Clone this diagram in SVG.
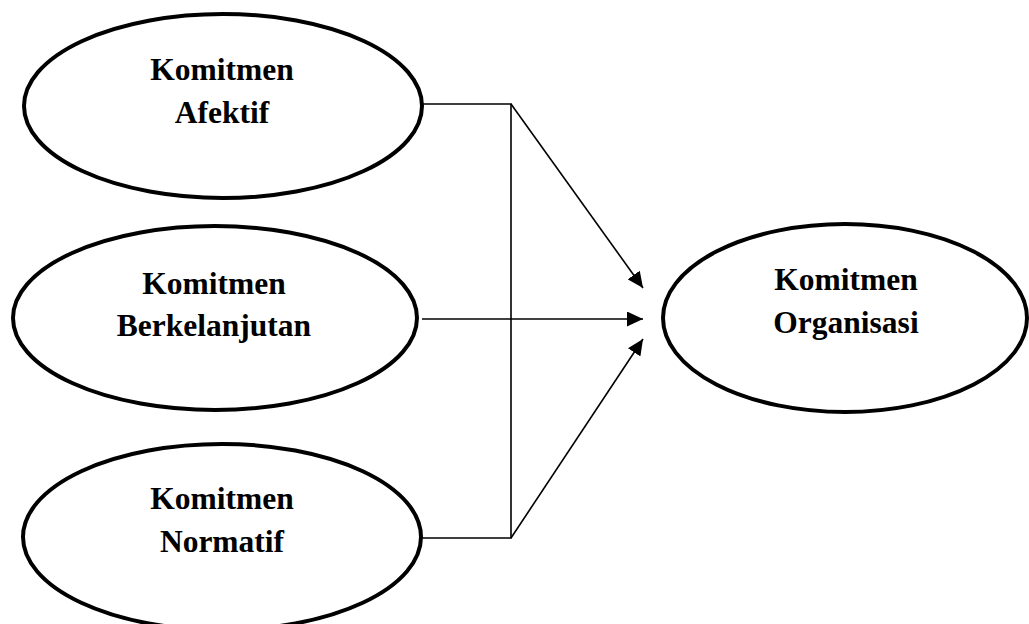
<svg xmlns="http://www.w3.org/2000/svg" width="1029" height="624" viewBox="0 0 1029 624">
  <style>
    .node ellipse { fill: #ffffff; stroke: #000000; stroke-width: 4; }
    .node text { font-family: "Liberation Serif", "Times New Roman", serif; font-weight: bold; font-size: 31.5px; fill: #000000; text-anchor: middle; }
    .conn { fill: none; stroke: #000000; stroke-width: 1.6; }
  </style>
  <defs>
    <marker id="arrow" markerUnits="userSpaceOnUse" markerWidth="17" markerHeight="15" refX="16" refY="7.5" orient="auto">
      <path d="M0,0 L16,7.5 L0,15 z" fill="#000000"/>
    </marker>
  </defs>
  <rect width="1029" height="624" fill="#ffffff"/>

  <g id="connectors">
    <polyline class="conn" points="422,104 511,104 511,538 422,538"/>
    <line class="conn" x1="511" y1="104" x2="643" y2="288" marker-end="url(#arrow)"/>
    <line class="conn" x1="422" y1="319" x2="643" y2="319" marker-end="url(#arrow)"/>
    <line class="conn" x1="511" y1="538" x2="643" y2="339" marker-end="url(#arrow)"/>
  </g>

  <g id="node-afektif" class="node">
    <ellipse cx="223" cy="106" rx="199" ry="92"/>
    <text x="222" y="80">Komitmen</text>
    <text x="222" y="123">Afektif</text>
  </g>

  <g id="node-berkelanjutan" class="node">
    <ellipse cx="215" cy="318" rx="202" ry="92"/>
    <text x="214" y="294">Komitmen</text>
    <text x="214" y="336">Berkelanjutan</text>
  </g>

  <g id="node-normatif" class="node">
    <ellipse cx="222" cy="537" rx="199" ry="93"/>
    <text x="222" y="509">Komitmen</text>
    <text x="222" y="552">Normatif</text>
  </g>

  <g id="node-organisasi" class="node">
    <ellipse cx="845" cy="318" rx="182" ry="94"/>
    <text x="846" y="290">Komitmen</text>
    <text x="846" y="333">Organisasi</text>
  </g>
</svg>
